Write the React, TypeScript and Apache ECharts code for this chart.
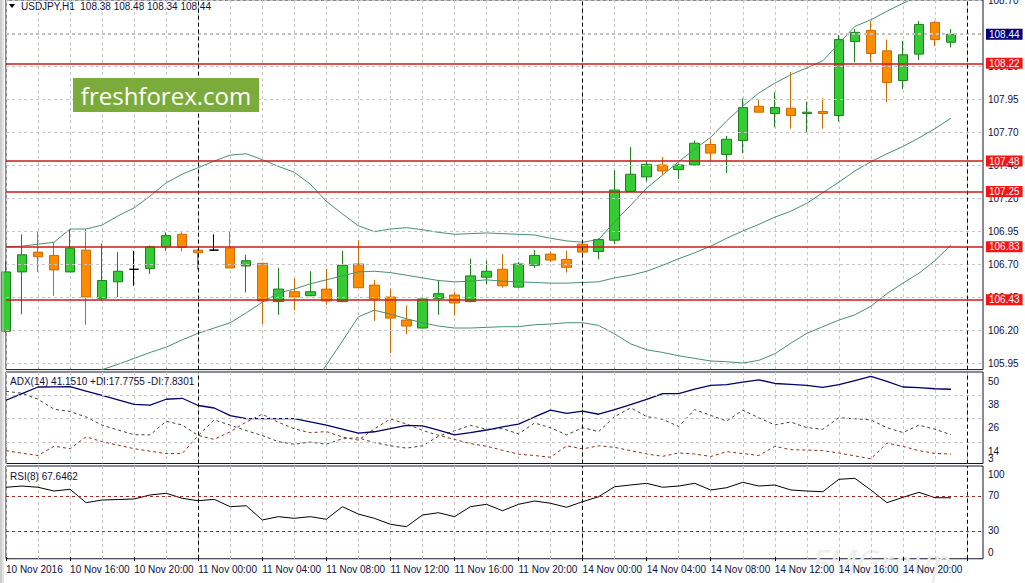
import React, { useEffect, useRef } from 'react';
import * as echarts from 'echarts';

// ---------- categories (hourly bars) ----------
const categories = [
  '10 Nov 12:00', '10 Nov 13:00', '10 Nov 14:00', '10 Nov 15:00', '10 Nov 16:00', '10 Nov 17:00',
  '10 Nov 18:00', '10 Nov 19:00', '10 Nov 20:00', '10 Nov 21:00', '10 Nov 22:00', '10 Nov 23:00',
  '11 Nov 00:00', '11 Nov 01:00', '11 Nov 02:00', '11 Nov 03:00', '11 Nov 04:00', '11 Nov 05:00',
  '11 Nov 06:00', '11 Nov 07:00', '11 Nov 08:00', '11 Nov 09:00', '11 Nov 10:00', '11 Nov 11:00',
  '11 Nov 12:00', '11 Nov 13:00', '11 Nov 14:00', '11 Nov 15:00', '11 Nov 16:00', '11 Nov 17:00',
  '11 Nov 18:00', '11 Nov 19:00', '11 Nov 20:00', '11 Nov 21:00', '11 Nov 22:00', '11 Nov 23:00',
  '14 Nov 00:00', '14 Nov 01:00', '14 Nov 02:00', '14 Nov 03:00', '14 Nov 04:00', '14 Nov 05:00',
  '14 Nov 06:00', '14 Nov 07:00', '14 Nov 08:00', '14 Nov 09:00', '14 Nov 10:00', '14 Nov 11:00',
  '14 Nov 12:00', '14 Nov 13:00', '14 Nov 14:00', '14 Nov 15:00', '14 Nov 16:00', '14 Nov 17:00',
  '14 Nov 18:00', '14 Nov 19:00', '14 Nov 20:00', '14 Nov 21:00', '14 Nov 22:00', '14 Nov 23:00',
  ' ', '  ',
];
const firstLabel = '10 Nov 2016';

// ---------- OHLC ----------
const opens = [
  106.19, 106.64, 106.79, 106.765, 106.64, 106.805, 106.44, 106.565, 106.66, 106.665, 106.83, 106.925,
  106.805, 106.805, 106.82, 106.685, 106.705, 106.415, 106.49, 106.46, 106.51, 106.415, 106.70, 106.54,
  106.45, 106.275, 106.215, 106.44, 106.465, 106.415, 106.60, 106.66, 106.525, 106.69, 106.775, 106.735,
  106.85, 106.795, 106.88, 107.25, 107.36, 107.45, 107.415, 107.45, 107.605, 107.53, 107.635, 107.895,
  107.84, 107.88, 107.84, 107.855, 107.825, 108.385, 108.47, 108.315, 108.09, 108.29, 108.53, 108.38,
];
const highs = [
  106.72, 106.925, 106.95, 106.865, 106.96, 106.965, 106.855, 106.79, 106.80, 106.84, 106.94, 106.94,
  106.81, 106.925, 106.945, 106.77, 106.71, 106.67, 106.59, 106.645, 106.665, 106.80, 106.88, 106.58,
  106.51, 106.385, 106.44, 106.58, 106.49, 106.74, 106.725, 106.775, 106.715, 106.805, 106.795, 106.80,
  106.88, 106.895, 107.41, 107.585, 107.48, 107.51, 107.46, 107.635, 107.645, 107.67, 107.955, 107.945,
  108.0, 108.155, 107.93, 107.955, 108.435, 108.48, 108.54, 108.40, 108.39, 108.54, 108.54, 108.48,
];
const lows = [
  106.18, 106.32, 106.64, 106.46, 106.64, 106.24, 106.42, 106.45, 106.535, 106.625, 106.80, 106.795,
  106.66, 106.80, 106.67, 106.485, 106.245, 106.315, 106.35, 106.455, 106.39, 106.41, 106.52, 106.27,
  106.025, 106.17, 106.21, 106.315, 106.31, 106.41, 106.545, 106.52, 106.52, 106.67, 106.715, 106.635,
  106.755, 106.735, 106.85, 107.25, 107.325, 107.375, 107.345, 107.45, 107.48, 107.39, 107.54, 107.85,
  107.735, 107.725, 107.70, 107.725, 107.78, 108.23, 108.23, 107.925, 108.025, 108.245, 108.35, 108.34,
];
const closes = [
  106.64, 106.77, 106.755, 106.655, 106.82, 106.45, 106.575, 106.645, 106.66, 106.83, 106.915, 106.825,
  106.785, 106.805, 106.67, 106.725, 106.42, 106.51, 106.45, 106.49, 106.42, 106.69, 106.52, 106.435,
  106.29, 106.23, 106.435, 106.475, 106.405, 106.61, 106.645, 106.535, 106.70, 106.765, 106.73, 106.675,
  106.79, 106.885, 107.26, 107.38, 107.455, 107.405, 107.45, 107.615, 107.54, 107.645, 107.885, 107.85,
  107.885, 107.825, 107.85, 107.84, 108.40, 108.455, 108.295, 108.075, 108.285, 108.515, 108.40, 108.44,
];
const dojiBars = [8, 13];

// ---------- Bollinger bands ----------
const bbUpper = [
  106.83, 106.835, 106.85, 106.865, 106.965, 106.965, 106.995, 107.065, 107.125, 107.215, 107.315, 107.38,
  107.43, 107.48, 107.525, 107.535, 107.49, 107.44, 107.395, 107.305, 107.175, 107.08, 106.99, 106.945,
  106.965, 106.975, 106.96, 106.94, 106.925, 106.93, 106.935, 106.93, 106.925, 106.92, 106.895, 106.875,
  106.865, 106.885, 107.02, 107.145, 107.275, 107.375, 107.475, 107.57, 107.66, 107.785, 107.895, 107.995,
  108.07, 108.135, 108.185, 108.24, 108.37, 108.50, 108.55, 108.615, 108.675, 108.73, 108.79, 108.85,
];
const bbMiddle = [
  105.67, 105.71, 105.745, 105.785, 105.82, 105.86, 105.90, 105.94, 105.985, 106.03, 106.07, 106.125,
  106.175, 106.215, 106.255, 106.33, 106.41, 106.48, 106.51, 106.55, 106.58, 106.61, 106.64, 106.645,
  106.635, 106.615, 106.595, 106.575, 106.565, 106.57, 106.58, 106.57, 106.565, 106.56, 106.555, 106.555,
  106.56, 106.565, 106.595, 106.615, 106.645, 106.69, 106.74, 106.785, 106.835, 106.895, 106.95, 107.0,
  107.055, 107.10, 107.16, 107.24, 107.32, 107.405, 107.475, 107.535, 107.59, 107.655, 107.725, 107.805,
];
const bbLower = [
  null, null, null, null, null, null, null, null, null, null, null, null,
  null, null, null, null, null, 105.40, 105.57, 105.75, 105.935, 106.115, 106.30, 106.35,
  106.32, 106.285, 106.255, 106.23, 106.215, 106.215, 106.22, 106.225, 106.225, 106.24, 106.245, 106.255,
  106.255, 106.235, 106.17, 106.095, 106.05, 106.03, 106.005, 105.985, 105.965, 105.96, 105.95, 105.97,
  106.02, 106.10, 106.175, 106.225, 106.275, 106.315, 106.38, 106.475, 106.555, 106.63, 106.725, 106.845,
];

// ---------- ADX(14) ----------
const adx = [
  35.5, 38.9, 42.3, 42.4, 42.5, 40.2, 38.0, 35.7, 33.4, 33.0, 36.0, 36.5,
  32.8, 31.5, 27.6, 26.0, 26.0, 26.0, 26.0, 24.4, 22.7, 20.7, 18.6, 19.3,
  20.9, 22.6, 22.3, 20.1, 17.7, 18.9, 20.2, 21.8, 23.2, 26.9, 30.4, 28.8,
  29.9, 28.3, 30.7, 33.3, 35.9, 38.9, 38.9, 41.2, 43.1, 43.5, 44.8, 46.0,
  44.1, 43.6, 43.1, 42.1, 43.5, 45.6, 47.7, 45.2, 42.3, 42.0, 41.4, 41.15,
];
const plusDI = [
  40.1, 39.1, 36.0, 30.9, 29.7, 26.9, 22.7, 20.2, 17.8, 17.7, 24.7, 22.8,
  17.4, 25.4, 22.7, 19.9, 17.4, 14.2, 12.9, 14.0, 12.9, 15.7, 16.2, 13.7,
  12.1, 10.9, 12.1, 17.0, 19.8, 22.6, 20.6, 20.9, 18.2, 23.8, 21.4, 17.7,
  21.4, 19.4, 27.1, 31.6, 27.1, 25.7, 22.0, 30.7, 27.7, 24.8, 30.4, 26.5,
  22.8, 24.3, 21.4, 20.6, 26.5, 26.0, 25.4, 21.4, 18.9, 22.7, 20.6, 17.78,
];
const minusDI = [
  9.6, 8.3, 7.1, 11.9, 10.6, 16.7, 14.2, 12.4, 10.6, 9.3, 8.1, 8.1,
  17.4, 15.4, 19.3, 24.3, 28.3, 24.2, 20.8, 18.8, 19.4, 16.6, 15.0, 20.8,
  25.9, 23.3, 20.0, 17.5, 15.4, 13.2, 11.9, 9.8, 7.8, 7.1, 6.2, 12.1,
  10.5, 12.1, 11.3, 9.6, 7.9, 6.7, 8.4, 7.9, 6.6, 9.1, 8.1, 7.1,
  11.8, 10.1, 9.9, 9.6, 8.4, 6.9, 5.4, 13.5, 11.8, 9.6, 8.2, 7.83,
];

// ---------- RSI(8) ----------
const rsi = [
  79.7, 81.1, 79.7, 75.4, 77.4, 62.1, 65.1, 65.7, 66.3, 70.9, 72.8, 67.1,
  64.3, 65.9, 57.5, 58.6, 42.3, 46.1, 44.2, 46.1, 43.1, 57.5, 49.1, 44.2,
  37.4, 34.6, 48.0, 50.6, 46.1, 57.5, 60.2, 52.9, 60.2, 64.0, 61.4, 56.8,
  63.2, 68.9, 80.3, 82.3, 84.2, 79.7, 81.1, 84.2, 76.6, 79.2, 85.4, 81.1,
  82.3, 76.6, 75.4, 74.6, 88.8, 89.9, 76.6, 62.1, 68.2, 73.9, 67.8, 67.65,
];

// ---------- ticks / levels ----------
const priceTicks = [105.95, 106.2, 106.45, 106.7, 106.95, 107.2, 107.45, 107.7, 107.95, 108.2, 108.45, 108.7];
const levelLines = [108.22, 107.48, 107.25, 106.83, 106.43];
const lastPrice = 108.44;
const adxTicksTop = [50, 38, 26, 14];
const adxTickBottom = 3;
const adxGridLines = [38, 26, 14];
const rsiTickTop = 100;
const rsiTicksMid = [70, 30];
const rsiTickBottom = 0;
const rsiLevels = [70, 30];
const separatorBars = [12, 36, 60];

const headerText = 'USDJPY,H1  108.38 108.48 108.34 108.44';
const adxText = 'ADX(14) 41.1510 +DI:17.7755 -DI:7.8301';
const rsiText = 'RSI(8) 67.6462';

// ---------- styles ----------
const FONT = '"Liberation Sans", Arial, sans-serif';
const TXT = '#10103a';
const BORDER = '#14142a';
const GRIDC = '#c6c6c6';
const BBC = '#4a8f6c';
const LEVEL_RED = '#cc1a1a';

const near = (list: number[], v: number) => list.some((t) => Math.abs(t - v) < 1e-6);

const xAxisFor = (gridIndex: number, showLabels: boolean) => ({
  type: 'category',
  gridIndex,
  data: categories,
  boundaryGap: false,
  axisLine: { show: false },
  axisTick: { show: showLabels, interval: 3, length: 4, lineStyle: { color: '#000' } },
  axisLabel: {
    show: showLabels,
    interval: 3,
    align: 'left',
    margin: 6,
    fontSize: 10,
    fontFamily: FONT,
    color: TXT,
    formatter: (v: string, i: number) => (i === 0 ? firstLabel : v),
  },
  splitLine: { show: true, interval: 1, lineStyle: { color: GRIDC, type: [3, 3], width: 1 } },
});

const yAxisFor = (
  gridIndex: number,
  min: number,
  max: number,
  interval: number,
  formatter: (v: number) => string,
  verticalAlign: string,
  padding: number[] = [0, 0, 0, 0],
) => ({
  type: 'value',
  gridIndex,
  position: 'right',
  min,
  max,
  interval,
  axisLine: { show: false },
  axisTick: { show: false },
  splitLine: { show: false },
  axisLabel: {
    formatter,
    verticalAlign,
    padding,
    margin: 5,
    fontSize: 10,
    fontFamily: FONT,
    color: TXT,
    showMinLabel: true,
    showMaxLabel: true,
  },
});

const sepData = separatorBars.map((i) => ({ xAxis: categories[i] }));
const sepMarkLine = {
  silent: true,
  symbol: ['none', 'none'],
  label: { show: false },
  lineStyle: { color: '#000', type: [4, 3], width: 1 },
  data: sepData,
};

const candleData = opens.map((o, i) => {
  const v = [o, closes[i], lows[i], highs[i]];
  return dojiBars.includes(i)
    ? { value: v, itemStyle: { color: '#000', color0: '#000', borderColor: '#000', borderColor0: '#000' } }
    : v;
});

const gridBase = {
  show: true,
  borderColor: BORDER,
  borderWidth: 1,
  backgroundColor: 'transparent',
  containLabel: false,
  outerBoundsMode: 'none',
};

const boxLabel = (text: string, bg: string) => ({
  show: true,
  position: 'end',
  distance: 3,
  formatter: () => text,
  backgroundColor: bg,
  color: '#ffffff',
  padding: [1, 3, 0, 3],
  fontSize: 10,
  fontFamily: FONT,
});

// invisible carrier series used only to hold mark lines in a given grid
const carrier = (xAxisIndex: number, yAxisIndex: number, data: number[], z: number, markLine: any) => ({
  type: 'line',
  xAxisIndex,
  yAxisIndex,
  data,
  symbol: 'none',
  silent: true,
  z,
  color: 'transparent',
  lineStyle: { width: 0, color: 'transparent' },
  markLine,
});

const option: any = {
  animation: false,
  backgroundColor: '#ffffff',
  grid: [
    { ...gridBase, left: 6, top: 0, width: 977, height: 369.6 },
    { ...gridBase, left: 6, top: 372, width: 977, height: 91.5 },
    { ...gridBase, left: 6, top: 466, width: 977, height: 92.75 },
  ],
  xAxis: [xAxisFor(0, false), xAxisFor(1, false), xAxisFor(2, true)],
  yAxis: [
    yAxisFor(0, 105.9, 108.7, 0.05, (v) => (near(priceTicks, v) ? v.toFixed(2) : ''), 'middle'),
    yAxisFor(1, 3, 50, 1, (v) => (near(adxTicksTop, v) ? String(v) : ''), 'top', [4, 0, 0, 0]),
    yAxisFor(1, 3, 50, 1, (v) => (Math.abs(v - adxTickBottom) < 1e-6 ? String(v) : ''), 'bottom'),
    yAxisFor(2, -2, 104, 1, (v) => (Math.abs(v - rsiTickTop) < 1e-6 ? String(v) : ''), 'top'),
    yAxisFor(2, -2, 104, 1, (v) => (near(rsiTicksMid, v) ? String(v) : ''), 'middle'),
    yAxisFor(2, -2, 104, 1, (v) => (Math.abs(v - rsiTickBottom) < 1e-6 ? String(v) : ''), 'bottom'),
  ],
  series: [
    // main grid lines
    carrier(0, 0, closes, 1, {
      silent: true,
      symbol: ['none', 'none'],
      label: { show: false },
      lineStyle: { color: GRIDC, type: [3, 3], width: 1 },
      data: priceTicks.map((v) => ({ yAxis: v })),
    }),
    {
      type: 'candlestick',
      xAxisIndex: 0,
      yAxisIndex: 0,
      data: candleData,
      barWidth: 10,
      z: 2,
      itemStyle: {
        color: '#33cc33',
        color0: '#ff8c00',
        borderColor: '#1f7f1f',
        borderColor0: '#cc6a00',
        borderWidth: 1,
      },
    },
    {
      type: 'line',
      xAxisIndex: 0,
      yAxisIndex: 0,
      data: bbUpper,
      symbol: 'none',
      z: 3,
      lineStyle: { color: BBC, width: 1 },
      markLine: sepMarkLine,
    },
    {
      type: 'line',
      xAxisIndex: 0,
      yAxisIndex: 0,
      data: bbMiddle,
      symbol: 'none',
      z: 3,
      lineStyle: { color: BBC, width: 1 },
    },
    {
      type: 'line',
      xAxisIndex: 0,
      yAxisIndex: 0,
      data: bbLower,
      symbol: 'none',
      z: 3,
      lineStyle: { color: BBC, width: 1 },
    },
    // red support / resistance levels and the last-price marker
    carrier(0, 0, closes, 4, {
      silent: true,
      symbol: ['none', 'none'],
      lineStyle: { color: LEVEL_RED, type: 'solid', width: 1.6 },
      data: [
        ...levelLines.map((v) => ({
          yAxis: v,
          lineStyle: { color: LEVEL_RED, type: 'solid', width: 1.6, opacity: 1 },
          label: boxLabel(v.toFixed(2), '#f41414'),
        })),
        {
          yAxis: lastPrice,
          lineStyle: { color: '#c0c0c0', type: [3, 3], width: 1, opacity: 1 },
          label: boxLabel(lastPrice.toFixed(2), '#00007a'),
        },
      ],
    }),
    // ADX panel
    carrier(1, 1, adx, 1, {
      silent: true,
      symbol: ['none', 'none'],
      label: { show: false },
      lineStyle: { color: GRIDC, type: [3, 3], width: 1 },
      data: adxGridLines.map((v) => ({ yAxis: v })),
    }),
    {
      type: 'line',
      xAxisIndex: 1,
      yAxisIndex: 1,
      data: plusDI,
      symbol: 'none',
      z: 2,
      lineStyle: { color: '#3a4634', width: 1, type: [3, 3] },
    },
    {
      type: 'line',
      xAxisIndex: 1,
      yAxisIndex: 1,
      data: minusDI,
      symbol: 'none',
      z: 2,
      lineStyle: { color: '#8c2f1c', width: 1, type: [3, 3] },
    },
    {
      type: 'line',
      xAxisIndex: 1,
      yAxisIndex: 1,
      data: adx,
      symbol: 'none',
      z: 3,
      lineStyle: { color: '#000066', width: 1.3 },
      markLine: sepMarkLine,
    },
    // RSI panel
    carrier(2, 3, rsi, 1, {
      silent: true,
      symbol: ['none', 'none'],
      label: { show: false },
      lineStyle: { color: '#9a2a2a', type: [3, 3], width: 1 },
      data: rsiLevels.map((v) => ({ yAxis: v })),
    }),
    {
      type: 'line',
      xAxisIndex: 2,
      yAxisIndex: 3,
      data: rsi,
      symbol: 'none',
      z: 3,
      lineStyle: { color: '#000000', width: 1 },
      markLine: sepMarkLine,
    },
  ],
  graphic: [
    { type: 'line', shape: { x1: 1, y1: 0, x2: 1, y2: 583 }, style: { stroke: '#9a9a9a', lineWidth: 1 }, z: 50 },
    { type: 'line', shape: { x1: 3, y1: 0, x2: 3, y2: 583 }, style: { stroke: '#c8c8c8', lineWidth: 1 }, z: 50 },
    {
      type: 'polygon',
      shape: { points: [[9, 4], [15, 4], [12, 8]] },
      style: { fill: '#000000' },
      z: 100,
    },
    {
      type: 'text',
      x: 21,
      y: 6,
      z: 100,
      style: { text: headerText, fill: TXT, fontSize: 10, fontFamily: FONT, verticalAlign: 'middle', align: 'left' },
    },
    {
      type: 'text',
      x: 10,
      y: 381,
      z: 100,
      style: { text: adxText, fill: TXT, fontSize: 10, fontFamily: FONT, verticalAlign: 'middle', align: 'left' },
    },
    {
      type: 'text',
      x: 10,
      y: 476,
      z: 100,
      style: { text: rsiText, fill: TXT, fontSize: 10, fontFamily: FONT, verticalAlign: 'middle', align: 'left' },
    },
    {
      type: 'rect',
      shape: { x: 73, y: 78, width: 186, height: 34 },
      style: { fill: '#7bac3b' },
      z: 100,
    },
    {
      type: 'text',
      x: 166,
      y: 95,
      z: 101,
      style: {
        text: 'freshforex.com',
        fill: '#ffffff',
        fontSize: 24,
        fontFamily: '"Open Sans", "DejaVu Sans", sans-serif',
        align: 'center',
        verticalAlign: 'middle',
      },
    },
    {
      type: 'text',
      x: 812,
      y: 562,
      z: 0,
      style: {
        text: 'FMGroup',
        fill: '#eeeeee',
        fontSize: 34,
        fontStyle: 'italic',
        fontFamily: '"Open Sans", "DejaVu Sans", sans-serif',
        align: 'left',
        verticalAlign: 'middle',
      },
    },
  ],
};

export default function App() {
  const ref = useRef<HTMLDivElement>(null);
  useEffect(() => {
    document.body.style.margin = '0';
    if (!ref.current) return;
    const chart = echarts.init(ref.current, null, { renderer: 'svg' });
    chart.setOption(option);
    return () => {
      chart.dispose();
    };
  }, []);
  return (
    <div
      ref={ref}
      style={{ position: 'absolute', left: 0, top: 0, width: 1025, height: 583, background: '#ffffff' }}
    />
  );
}
